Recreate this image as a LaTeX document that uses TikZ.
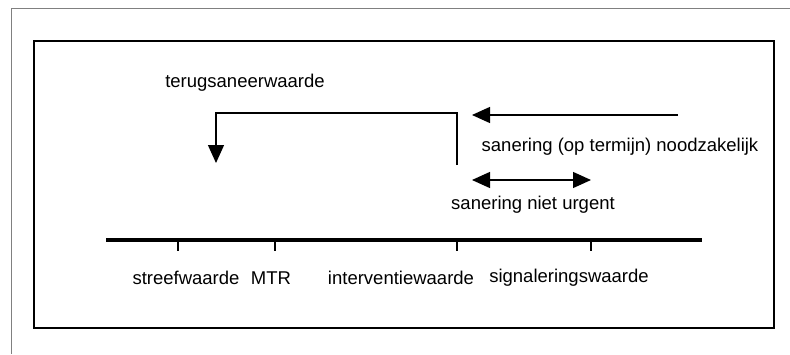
\documentclass[tikz,border=0pt]{standalone}
\usepackage{fontspec}
\setmainfont{Liberation Sans}
\usepackage{tikz}
\usetikzlibrary{arrows.meta, positioning}
\tikzstyle{arrow} = [-{Triangle[length=18pt, width=16pt]}, line width=1.3pt]
\tikzstyle{twoarrow} = [{Triangle[length=18pt, width=16pt]}-{Triangle[length=18pt, width=16pt]}, line width=1.3pt]
\tikzstyle{tick} = [line width=2pt]
\tikzstyle{label} = [inner sep=0pt, font=\fontsize{18.5}{20}\selectfont]

\begin{document}
\begin{tikzpicture}[x=1pt, y=-1pt]
  \useasboundingbox (0, 0) rectangle (790, 354);

  % Frames
  \draw[gray, line width=1pt] (790, 8) -- (11, 8) -- (11, 354);
  \draw[line width=2pt] (34, 41) rectangle (774, 328);

  % Scale
  \coordinate (axis_start) at (106, 240);
  \coordinate (axis_end) at (702, 240);
  \draw[line width=4.5pt] (axis_start) -- (axis_end);

  \coordinate (t_streef) at (178, 240);
  \coordinate (t_mtr) at (275, 240);
  \coordinate (t_interv) at (457, 240);
  \coordinate (t_signal) at (591, 240);
  \foreach \t in {t_streef, t_mtr, t_interv, t_signal}
    \draw[tick] (\t) -- ++(0, 11);

  \node[label] (streef) at (186, 278) {streefwaarde};
  \node[label] (mtr) at (271, 278) {MTR};
  \node[label] (interv) at (401, 278) {interventiewaarde};
  \node[label] (signal) at (569, 278) {signaleringswaarde};

  % Arrows
  \node[label] (terug) at (245, 83) {terugsaneerwaarde};
  \coordinate (bracket_foot) at (457, 165);
  \coordinate (bracket_tip) at (216, 163);
  \draw[arrow] (bracket_foot) |- (216, 113) -- (bracket_tip);

  \coordinate (nood_start) at (678, 115);
  \coordinate (nood_end) at (472, 115);
  \draw[arrow] (nood_start) -- (nood_end);
  \node[label] (nood) at (620, 147) {sanering (op termijn) noodzakelijk};

  \coordinate (urgent_left) at (472, 180);
  \coordinate (urgent_right) at (591, 180);
  \draw[twoarrow] (urgent_left) -- (urgent_right);
  \node[label] (urgent) at (533, 205) {sanering niet urgent};

\end{tikzpicture}
\end{document}
